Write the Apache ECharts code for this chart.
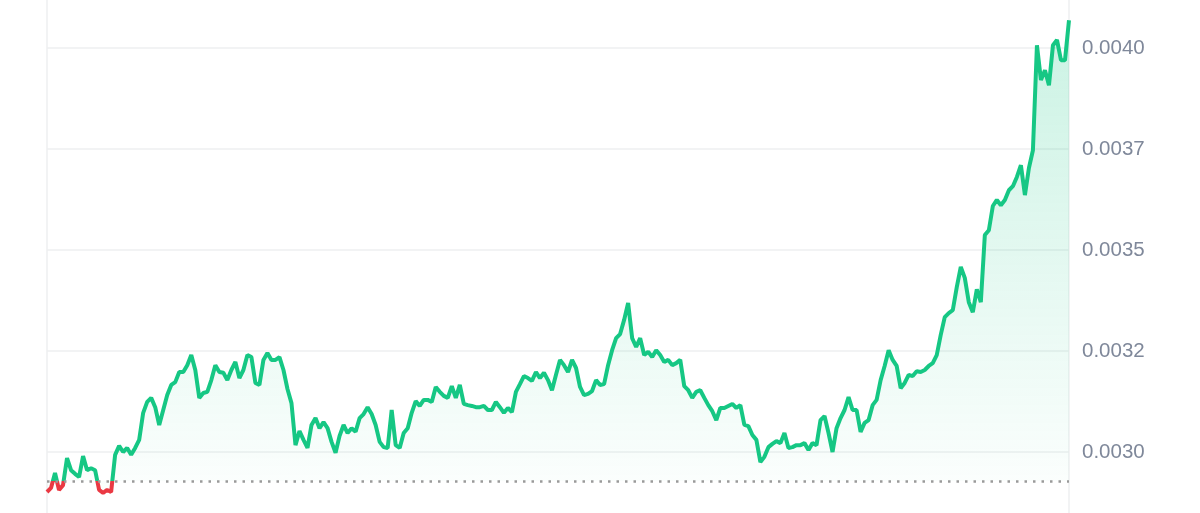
<!DOCTYPE html>
<html>
<head>
<meta charset="utf-8">
<style>
  html, body { margin: 0; padding: 0; background: #fff; }
  #chart { width: 1200px; height: 513px; }
</style>
<script src="https://cdn.jsdelivr.net/npm/echarts@6/dist/echarts.min.js"></script>
</head>
<body>
<div id="chart"></div>
<script>
// price series (evenly spaced samples)
let prices = [
    0.002901, 0.002911, 0.002948, 0.002906, 0.002918, 0.002985, 0.002955, 0.002946, 0.002938, 0.002990,
    0.002955, 0.002960, 0.002955, 0.002906, 0.002899, 0.002906, 0.002901, 0.002993, 0.003015, 0.003000,
    0.003010, 0.002993, 0.003010, 0.003030, 0.003097, 0.003124, 0.003134, 0.003111, 0.003067, 0.003104,
    0.003141, 0.003166, 0.003173, 0.003198, 0.003198, 0.003215, 0.003240, 0.003203, 0.003134, 0.003146,
    0.003149, 0.003178, 0.003215, 0.003198, 0.003196, 0.003178, 0.003203, 0.003223, 0.003183, 0.003203,
    0.003240, 0.003235, 0.003171, 0.003166, 0.003228, 0.003245, 0.003228, 0.003228, 0.003235, 0.003203,
    0.003156, 0.003121, 0.003017, 0.003052, 0.003030, 0.003010, 0.003067, 0.003084, 0.003059, 0.003074,
    0.003059, 0.003025, 0.002998, 0.003040, 0.003067, 0.003047, 0.003059, 0.003050, 0.003084, 0.003094,
    0.003111, 0.003094, 0.003067, 0.003025, 0.003012, 0.003010, 0.003104, 0.003017, 0.003010, 0.003047,
    0.003059, 0.003097, 0.003126, 0.003114, 0.003129, 0.003129, 0.003124, 0.003161, 0.003149, 0.003139,
    0.003134, 0.003163, 0.003134, 0.003166, 0.003119, 0.003116, 0.003114, 0.003111, 0.003111, 0.003114,
    0.003104, 0.003104, 0.003124, 0.003111, 0.003097, 0.003109, 0.003099, 0.003149, 0.003168, 0.003188,
    0.003183, 0.003176, 0.003198, 0.003183, 0.003196, 0.003178, 0.003153, 0.003191, 0.003228, 0.003215,
    0.003198, 0.003228, 0.003208, 0.003161, 0.003141, 0.003144, 0.003151, 0.003178, 0.003166, 0.003168,
    0.003215, 0.003252, 0.003282, 0.003292, 0.003327, 0.003369, 0.003282, 0.003260, 0.003282, 0.003240,
    0.003248, 0.003235, 0.003252, 0.003240, 0.003223, 0.003228, 0.003215, 0.003220, 0.003228, 0.003163,
    0.003153, 0.003134, 0.003149, 0.003153, 0.003134, 0.003116, 0.003101, 0.003079, 0.003109, 0.003109,
    0.003114, 0.003119, 0.003109, 0.003116, 0.003067, 0.003064, 0.003042, 0.003030, 0.002975, 0.002988,
    0.003012, 0.003020, 0.003027, 0.003022, 0.003047, 0.003010, 0.003012, 0.003017, 0.003017, 0.003022,
    0.003005, 0.003022, 0.003017, 0.003079, 0.003089, 0.003047, 0.003000, 0.003059, 0.003084, 0.003104,
    0.003136, 0.003104, 0.003104, 0.003050, 0.003072, 0.003079, 0.003116, 0.003129, 0.003178, 0.003213,
    0.003252, 0.003228, 0.003213, 0.003158, 0.003171, 0.003191, 0.003188, 0.003200, 0.003198, 0.003203,
    0.003213, 0.003220, 0.003240, 0.003290, 0.003334, 0.003344, 0.003351, 0.003408, 0.003458, 0.003431,
    0.003371, 0.003346, 0.003403, 0.003371, 0.003537, 0.003549, 0.003609, 0.003624, 0.003611, 0.003624,
    0.003648, 0.003658, 0.003681, 0.003710, 0.003636, 0.003703, 0.003747, 0.004007, 0.003921, 0.003945,
    0.003908, 0.004007, 0.004020, 0.003970, 0.003970, 0.004069
];

// reference price (dotted line); below it the line turns red
let baseline = 0.002928;

// y range visible in the picture and its labelled ticks
let yMin = 0.002849;
let yMax = 0.004119;
let yTicks = [0.0030, 0.00325, 0.0035, 0.00375, 0.0040];
let yLabels = ['0.0030', '0.0032', '0.0035', '0.0037', '0.0040'];

let categories = prices.map((p, i) => i);

let chart = echarts.init(document.getElementById('chart'));

let option = {
    animation: false,
    grid: {left: 47, right: 131, top: 0, bottom: 0},
    xAxis: {
        type: 'category',
        data: categories,
        boundaryGap: false,
        show: false
    },
    yAxis: [
        {
            type: 'value', position: 'right', min: yMin, max: yMax,
            axisLine: {show: true, lineStyle: {color: '#eeeff1', width: 1.5}},
            axisTick: {show: false, customValues: yTicks},
            splitLine: {show: true, lineStyle: {color: '#eeeff1', width: 1.5}},
            axisLabel: {
                customValues: yTicks,
                margin: 13,
                fontSize: 20.5,
                fontFamily: 'Liberation Sans, Arial, sans-serif',
                color: '#7f889a',
                formatter: function (v) {
                    for (let i = 0; i < yTicks.length; i++) {
                        if (Math.abs(v - yTicks[i]) < 1e-7) return yLabels[i];
                    }
                    return '';
                }
            }
        },
        {
            type: 'value', position: 'left', min: yMin, max: yMax,
            axisLine: {show: true, lineStyle: {color: '#eeeff1', width: 1.5}},
            axisTick: {show: false}, axisLabel: {show: false}, splitLine: {show: false}
        }
    ],
    visualMap: {
        type: 'piecewise',
        show: false,
        seriesIndex: 0,
        dimension: 1,
        pieces: [
            {gt: 0.002, lte: baseline, color: '#ea3943'},
            {gt: baseline, lte: 0.005, color: '#16c784'}
        ],
        outOfRange: {color: '#16c784'}
    },
    series: [
        {
            type: 'line',
            data: prices,
            showSymbol: false,
            lineStyle: {width: 4},
            areaStyle: {
                origin: baseline,
                color: new echarts.graphic.LinearGradient(0, 0, 0, 1, [
                    {offset: 0, color: 'rgba(22, 199, 132, 0.32)'},
                    {offset: 1, color: 'rgba(22, 199, 132, 0.02)'}
                ])
            },
            markLine: {
                silent: true,
                symbol: ['none', 'none'],
                label: {show: false},
                lineStyle: {color: '#9a9a9a', type: [2.5, 6], width: 2.5},
                data: [[
                    {coord: [categories[0], baseline]},
                    {coord: [categories[categories.length - 1], baseline]}
                ]]
            }
        }
    ]
};

chart.setOption(option);
</script>
</body>
</html>
